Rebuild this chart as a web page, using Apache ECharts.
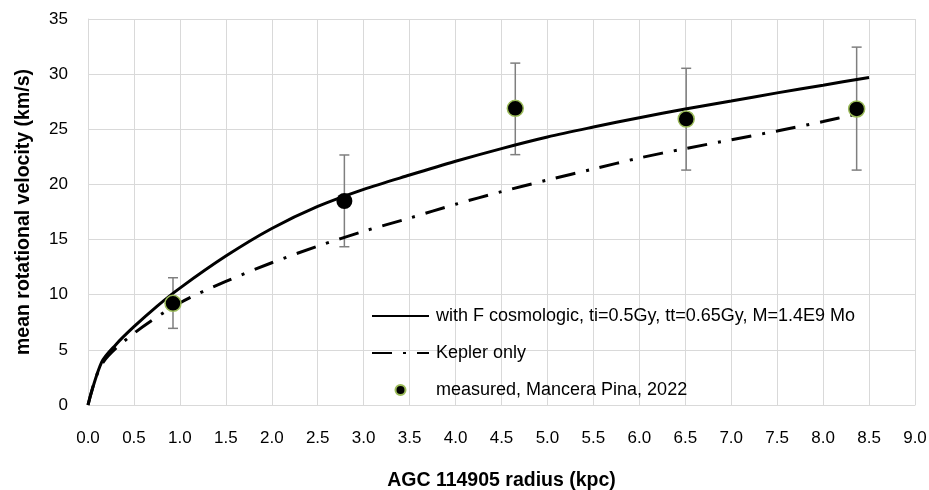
<!DOCTYPE html>
<html>
<head>
<meta charset="utf-8">
<script src="https://cdn.jsdelivr.net/npm/echarts@6/dist/echarts.min.js"></script>
<style>html,body{margin:0;padding:0;background:#fff;overflow:hidden}#c{width:929px;height:490px}</style>
</head>
<body>
<div id="c"></div>
<script>
// ---- data ----
var cosmoX = [0, 0.15, 0.3, 0.5, 0.75, 1.0, 1.5, 2.0, 2.5, 3.0, 3.5, 4.0, 4.5, 5.0, 5.5, 6.0, 6.5, 7.0, 7.5, 8.0, 8.5];
var cosmoV = [0, 3.9, 5.45, 7.1, 8.95, 10.6, 13.5, 16.0, 18.0, 19.55, 20.85, 22.1, 23.25, 24.3, 25.2, 26.05, 26.84, 27.57, 28.3, 29.0, 29.7];
var keplerX = [0, 0.15, 0.5, 1.0, 1.5, 2.0, 2.5, 3.0, 3.5, 4.0, 4.5, 5.0, 5.5, 6.0, 6.5, 7.0, 7.5, 8.0, 8.37];
var keplerV = [0, 3.7, 6.5, 9.25, 11.2, 12.9, 14.4, 15.75, 16.95, 18.2, 19.35, 20.4, 21.4, 22.4, 23.25, 24.05, 24.85, 25.7, 26.4];
var measX = [0.925, 2.79, 4.65, 6.51, 8.365];
var measV = [9.22, 18.5, 26.9, 25.93, 26.84];
var errLow = [6.95, 14.35, 22.7, 21.3, 21.3];
var errHigh = [11.54, 22.67, 31.0, 30.53, 32.45];
var xTicks = [0, 9, 0.5];
var yTicks = [0, 35, 5];
var names = ['with F cosmologic, ti=0.5Gy, tt=0.65Gy, M=1.4E9 Mo', 'Kepler only', 'measured, Mancera Pina, 2022'];
var xTitle = 'AGC 114905 radius (kpc)';
var yTitle = 'mean rotational velocity (km/s)';

function zip(a, b) { return a.map(function (v, i) { return [v, b[i]]; }); }

var FONT = 'Liberation Sans';
var chart = echarts.init(document.getElementById('c'), null, { renderer: 'canvas', width: 929, height: 490 });
var gridColor = '#d9d9d9';

var measData = measX.map(function (x, i) {
  var d = { value: [x, measV[i]] };
  if (i === 1) d.itemStyle = { borderWidth: 0 };
  return d;
});
var errData = measX.map(function (x, i) { return [x, errLow[i], errHigh[i]]; });

chart.setOption({
  animation: false,
  textStyle: { fontFamily: FONT },
  grid: { left: 88, right: 14, top: 19, bottom: 85, containLabel: false, outerBoundsMode: 'none' },
  xAxis: {
    type: 'value', min: xTicks[0], max: xTicks[1], interval: xTicks[2],
    name: xTitle, nameLocation: 'middle', nameGap: 66,
    nameTextStyle: { fontSize: 19.5, fontWeight: 'bold', color: '#000', fontFamily: FONT },
    axisLine: { lineStyle: { color: gridColor, width: 1 } },
    axisTick: { show: false },
    axisLabel: { fontSize: 17, color: '#000', margin: 25, formatter: function (v) { return v.toFixed(1); } },
    splitLine: { show: true, lineStyle: { color: gridColor, width: 1 } }
  },
  yAxis: {
    type: 'value', min: yTicks[0], max: yTicks[1], interval: yTicks[2],
    name: yTitle, nameLocation: 'middle', nameGap: 54, nameRotate: 90,
    nameTextStyle: { fontSize: 19.5, fontWeight: 'bold', color: '#000', fontFamily: FONT },
    axisLine: { show: true, lineStyle: { color: gridColor, width: 1 } },
    axisTick: { show: false },
    axisLabel: { fontSize: 17, color: '#000', margin: 20 },
    splitLine: { show: true, lineStyle: { color: gridColor, width: 1 } }
  },
  legend: {
    orient: 'vertical', left: 371, top: 307, padding: 0,
    itemWidth: 57, itemHeight: 10, itemGap: 19,
    textStyle: { fontSize: 18, color: '#000', fontFamily: FONT, padding: [0, 0, 0, 2] },
    data: [
      { name: names[0], itemStyle: { opacity: 0 } },
      { name: names[1], itemStyle: { opacity: 0 } },
      { name: names[2] }
    ]
  },
  series: [
    {
      type: 'custom', name: 'err', z: 1, silent: true,
      data: errData,
      renderItem: function (params, api) {
        var x = api.value(0);
        var lo = api.coord([x, api.value(1)]);
        var hi = api.coord([x, api.value(2)]);
        var st = { stroke: '#7f7f7f', lineWidth: 1.5 };
        return {
          type: 'group', children: [
            { type: 'line', shape: { x1: lo[0], y1: lo[1], x2: hi[0], y2: hi[1] }, style: st },
            { type: 'line', shape: { x1: lo[0] - 5, y1: lo[1], x2: lo[0] + 5, y2: lo[1] }, style: st },
            { type: 'line', shape: { x1: hi[0] - 5, y1: hi[1], x2: hi[0] + 5, y2: hi[1] }, style: st }
          ]
        };
      }
    },
    {
      type: 'line', name: names[0], z: 3, data: zip(cosmoX, cosmoV),
      smooth: 0.3, symbol: 'none',
      lineStyle: { color: '#000', width: 3 }, itemStyle: { color: '#000' }
    },
    {
      type: 'line', name: names[1], z: 3, data: zip(keplerX, keplerV),
      smooth: 0.3, symbol: 'none',
      lineStyle: { color: '#000', width: 3, type: [20, 11, 3, 11], cap: 'butt' }, itemStyle: { color: '#000' }
    },
    {
      type: 'scatter', name: names[2], z: 5, data: measData,
      symbol: 'circle', symbolSize: 16,
      itemStyle: { color: '#000', borderColor: '#9bbb59', borderWidth: 1.5, opacity: 1 }
    }
  ]
});
</script>
</body>
</html>
